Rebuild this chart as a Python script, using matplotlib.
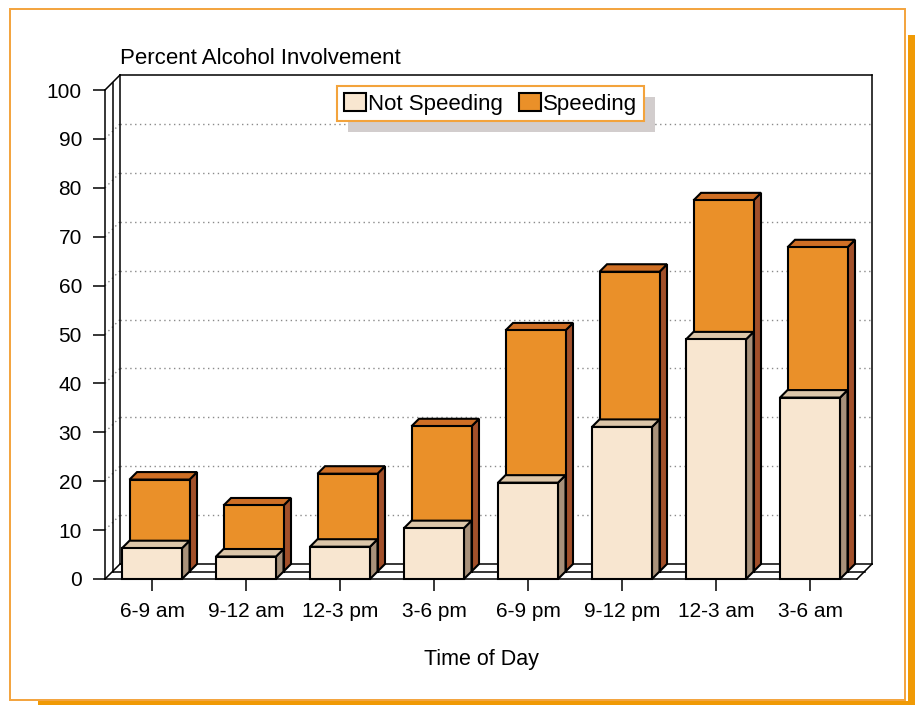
import matplotlib
matplotlib.use("Agg")
import matplotlib.pyplot as plt
from matplotlib.patches import Polygon, Rectangle, Patch
from matplotlib.transforms import IdentityTransform

plt.rcParams['font.family'] = ['Liberation Sans', 'DejaVu Sans']

# ---- data ----
categories = ["6-9 am", "9-12 am", "12-3 pm", "3-6 pm", "6-9 pm", "9-12 pm", "12-3 am", "3-6 am"]
not_speeding = [6.3, 4.6, 6.6, 10.4, 19.7, 31.1, 49.0, 37.1]
speeding = [18.8, 13.5, 20.0, 29.7, 49.3, 61.3, 75.9, 66.3]
yticks = [0, 10, 20, 30, 40, 50, 60, 70, 80, 90, 100]
series_names = ["Not Speeding", "Speeding"]

# ---- styles ----
cream = dict(front="#F8E6D0", top="#DCC6A9", side="#A8917A")
orange = dict(front="#EA9029", top="#CF6F25", side="#A2502A")
ORANGE_FRAME = "#F3A33C"
ORANGE_SHADOW = "#F09A05"

W, H = 915, 705
fig = plt.figure(figsize=(W / 100, H / 100), dpi=100)
fig.patch.set_facecolor("white")

# outer frame and its orange shadow
fig.add_artist(Rectangle((908 / W, 0), 7 / W, (H - 35) / H, transform=fig.transFigure,
                         fc=ORANGE_SHADOW, ec="none", zorder=0))
fig.add_artist(Rectangle((38 / W, 0), (W - 38) / W, 4 / H, transform=fig.transFigure,
                         fc=ORANGE_SHADOW, ec="none", zorder=0))
fig.add_artist(Rectangle((10 / W, 5 / H), 895 / W, 691 / H, transform=fig.transFigure,
                         fc="white", ec=ORANGE_FRAME, lw=1.4, zorder=0.5))

ax = fig.add_axes([105 / W, 126 / H, 752 / W, 489 / H])
ax.set_zorder(1)
ax.patch.set_visible(False)
n = len(categories)
ax.set_xlim(-0.5, n - 0.5)
ax.set_ylim(0, 100)

px_x = 752 / n
px_y = 489 / 100
DX = 15 / px_x
DY = 15 / px_y
x_left, x_right = -0.5, n - 0.5

wall_kw = dict(color="black", lw=1.1, clip_on=False, zorder=2, solid_capstyle="projecting")
grid_kw = dict(color="#8a8a8a", lw=1.0, ls=(0, (1, 2.5)), clip_on=False, zorder=1)

# gridlines on back wall and left wall
for v in yticks[1:-1]:
    ax.plot([x_left + DX, x_right + DX], [v + DY, v + DY], **grid_kw)
    ax.plot([x_left, x_left + DX], [v, v + DY], **grid_kw)

# walls / floor
for f in (0.5, 1.0):
    ax.plot([x_left + f * DX, x_left + f * DX], [f * DY, 100 + f * DY], **wall_kw)
    ax.plot([x_left + f * DX, x_right + f * DX], [f * DY, f * DY], **wall_kw)
ax.plot([x_left, x_left + DX], [100, 100 + DY], **wall_kw)
ax.plot([x_left + DX, x_right + DX], [100 + DY, 100 + DY], **wall_kw)
ax.plot([x_right + DX, x_right + DX], [DY, 100 + DY], **wall_kw)
ax.plot([x_left, x_left + DX], [0, DY], **wall_kw)
ax.plot([x_right, x_right + DX], [0, DY], **wall_kw)

w = 60 / px_x


def bar3d(xc, v, row, colors, z):
    ox, oy = row * DX / 2, row * DY / 2
    dx, dy = DX / 2, DY / 2
    x0, x1 = xc - w / 2 + ox, xc + w / 2 + ox
    kw = dict(closed=True, ec="black", lw=1.5, joinstyle="miter", clip_on=False, zorder=z)
    ax.add_patch(Polygon([(x1, oy), (x1 + dx, oy + dy), (x1 + dx, v + oy + dy), (x1, v + oy)],
                         fc=colors["side"], **kw))
    ax.add_patch(Polygon([(x0, v + oy), (x1, v + oy), (x1 + dx, v + oy + dy), (x0 + dx, v + oy + dy)],
                         fc=colors["top"], **kw))
    ax.add_patch(Polygon([(x0, oy), (x1, oy), (x1, v + oy), (x0, v + oy)],
                         fc=colors["front"], **kw))


for i, v in enumerate(speeding):
    bar3d(i, v, 1, orange, 3)
for i, v in enumerate(not_speeding):
    bar3d(i, v, 0, cream, 3.5)

# axes
for s in ("top", "right"):
    ax.spines[s].set_visible(False)
for s in ("left", "bottom"):
    ax.spines[s].set_linewidth(1.1)
    ax.spines[s].set_zorder(2)
ax.set_xticks(range(n))
ax.set_xticklabels(categories)
ax.set_yticks(yticks)
ax.tick_params(axis="both", direction="out", length=8.6, width=1.1, labelsize=15, color="black")
ax.tick_params(axis="y", pad=8)
ax.tick_params(axis="x", pad=8)
ax.set_xlabel("Time of Day", fontsize=15.5, labelpad=20)

fig.text(120 / W, 1 - 58 / H, "Percent Alcohol Involvement", fontsize=16, ha="left", va="center")

handles = [Patch(fc=cream["front"], ec="black", lw=1.5), Patch(fc=orange["front"], ec="black", lw=1.5)]
leg = ax.legend(handles, series_names, loc="upper left", bbox_to_anchor=(337 / W, 1 - 86 / H),
                bbox_transform=fig.transFigure, borderaxespad=0, ncol=2, fontsize=16,
                frameon=True, fancybox=False, edgecolor=ORANGE_FRAME, framealpha=1,
                handlelength=1.0, handleheight=0.9, handletextpad=0.1, columnspacing=0.7,
                borderpad=0.3)
leg.get_frame().set_linewidth(1.5)
leg.set_zorder(6)

fig.canvas.draw()
bb = leg.get_window_extent()
ax.add_patch(Rectangle((bb.x0 + 11, bb.y0 - 11), bb.width, bb.height, transform=IdentityTransform(),
                       fc="#D2CDCD", ec="none", zorder=5.5, clip_on=False))

fig.savefig("out.png", dpi=100)
